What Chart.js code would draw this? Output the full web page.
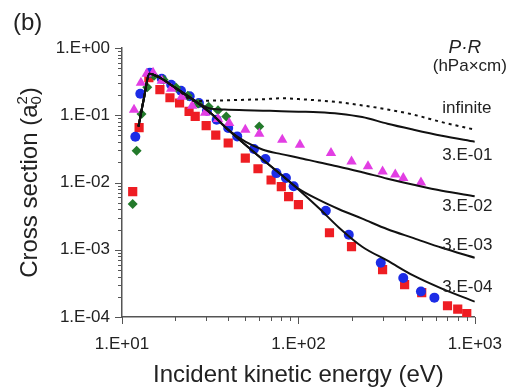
<!DOCTYPE html>
<html>
<head>
<meta charset="utf-8">
<script src="https://cdn.jsdelivr.net/npm/chart.js@4.4.1/dist/chart.umd.min.js"></script>
<style>
  html, body { margin: 0; padding: 0; background: #fff; }
  #chart { display: block; }
</style>
</head>
<body>
<canvas id="chart" width="519" height="390"></canvas>
<script>
// values (energy in eV, cross section in a0^2)
const curve_energy = [12.4, 13.3, 14.3, 16, 20, 26, 32, 40, 50, 63, 80, 100, 130, 170, 230, 320, 450, 650, 1000];
const curve_infinite = [0.068, 0.176, 0.415, 0.374, 0.257, 0.162, 0.165, 0.167, 0.170, 0.173, 0.179, 0.174, 0.166, 0.156, 0.140, 0.122, 0.102, 0.079, 0.061];
const curve_3e01 = [0.068, 0.176, 0.415, 0.374, 0.257, 0.162, 0.125, 0.121, 0.119, 0.117, 0.115, 0.113, 0.111, 0.1055, 0.094, 0.0748, 0.061, 0.0497, 0.0404];
const curve_3e02 = [0.068, 0.176, 0.415, 0.374, 0.257, 0.162, 0.106, 0.0608, 0.0404, 0.0307, 0.0264, 0.0234, 0.0200, 0.0172, 0.0142, 0.0114, 0.00927, 0.00755, 0.00626];
const curve_3e03 = [0.068, 0.176, 0.415, 0.374, 0.257, 0.162, 0.106, 0.0608, 0.0365, 0.0218, 0.0130, 0.0081, 0.00555, 0.0040, 0.0029, 0.00202, 0.00149, 0.00107, 0.000762];
const curve_3e04 = [0.068, 0.176, 0.415, 0.374, 0.257, 0.162, 0.106, 0.0608, 0.0365, 0.0218, 0.0130, 0.0079, 0.00422, 0.00213, 0.00111, 0.000687, 0.000411, 0.000264, 0.000169];

const red_energy = [11.5, 12.5, 14.2, 16.4, 18.7, 21.2, 24, 26, 30, 34, 40, 50, 59, 70, 80, 88, 100, 150, 200, 300, 400, 500, 700, 800, 900];
const red_sigma = [0.0073, 0.0653, 0.362, 0.240, 0.182, 0.152, 0.114, 0.096, 0.070, 0.0505, 0.0387, 0.023, 0.016, 0.0109, 0.00866, 0.00615, 0.00468, 0.00179, 0.00111, 0.000505, 0.000302, 0.00023, 0.000147, 0.000131, 0.000112];

const blue_energy = [11.9, 12.7, 14.4, 16.8, 19, 21.6, 24.2, 27.3, 30.3, 34.4, 40, 45, 56, 65, 75, 85, 94, 143, 193, 293, 393, 495, 590];
const blue_sigma = [0.048, 0.209, 0.43, 0.35, 0.285, 0.232, 0.192, 0.152, 0.117, 0.0859, 0.0646, 0.0485, 0.0315, 0.0224, 0.0138, 0.0117, 0.0088, 0.0038, 0.00167, 0.00064, 0.00038, 0.00024, 0.000194];

const green_energy = [11.5, 12.1, 12.9, 13.9, 15.2, 17.2, 20.3, 23.6, 27, 31, 35, 39, 60];
const green_sigma = [0.0048, 0.0297, 0.104, 0.261, 0.387, 0.338, 0.257, 0.195, 0.149, 0.134, 0.119, 0.096, 0.068];

const magenta_energy = [11.7, 12.8, 13.8, 15, 16.8, 19, 21.8, 25, 29.6, 35, 40.5, 50, 60, 81, 102, 153, 200, 248, 300, 354, 393, 495];
const magenta_sigma = [0.121, 0.305, 0.415, 0.43, 0.326, 0.248, 0.189, 0.139, 0.109, 0.088, 0.0767, 0.061, 0.0532, 0.0433, 0.0365, 0.0275, 0.0206, 0.0174, 0.0146, 0.0131, 0.0117, 0.0100];

const x_decades = [10, 100, 1000];
const y_decades = [1e-4, 1e-3, 1e-2, 1e-1, 1];
const curve_labels = ["infinite", "3.E-01", "3.E-02", "3.E-03", "3.E-04"];

const FONT = "'Liberation Sans', Arial, Helvetica, sans-serif";
const TEXT = "#222";
const AXIS = "#555";

function to_points(xs, ys) {
  return xs.map((x, i) => ({ x: x, y: ys[i] }));
}

function is_decade(v) {
  const l = Math.log10(v);
  return Math.abs(l - Math.round(l)) < 1e-6;
}

function decade_label(v) {
  const e = Math.round(Math.log10(v));
  return "1.E" + (e < 0 ? "-" : "+") + String(Math.abs(e)).padStart(2, "0");
}

function log_ticks(decades) {
  const out = [];
  decades.forEach((d, i) => {
    if (i === decades.length - 1) {
      out.push({ value: d });
      return;
    }
    for (let m = 1; m < 10; m++) out.push({ value: m * d });
  });
  return out;
}

function curve(data, dashed) {
  return {
    data: to_points(curve_energy, data),
    showLine: true,
    borderColor: "#111",
    borderWidth: 2,
    borderDash: dashed ? [3, 4] : [],
    pointRadius: 0,
    cubicInterpolationMode: "monotone",
  };
}

function markers(xs, ys, colour, style, radius) {
  return {
    data: to_points(xs, ys),
    showLine: false,
    pointStyle: style,
    pointRadius: radius,
    pointBackgroundColor: colour,
    pointBorderColor: colour,
    pointBorderWidth: 0,
  };
}

// tick marks, titles and curve labels
const extras = {
  id: "extras",
  afterDraw(chart) {
    const ctx = chart.ctx;
    const xs = chart.scales.x;
    const ys = chart.scales.y;
    const area = chart.chartArea;
    ctx.save();

    ctx.strokeStyle = AXIS;
    ctx.lineWidth = 1;
    ys.ticks.forEach((t) => {
      const y = Math.round(ys.getPixelForValue(t.value)) + 0.5;
      const len = is_decade(t.value) ? 7 : 4;
      ctx.beginPath();
      ctx.moveTo(area.left - len, y);
      ctx.lineTo(area.left, y);
      ctx.stroke();
    });
    xs.ticks.forEach((t) => {
      const x = Math.round(xs.getPixelForValue(t.value)) + 0.5;
      const len = is_decade(t.value) ? 7 : 4;
      ctx.beginPath();
      ctx.moveTo(x, area.bottom);
      ctx.lineTo(x, area.bottom + len);
      ctx.stroke();
    });

    ctx.fillStyle = TEXT;

    // panel letter
    ctx.font = "24px " + FONT;
    ctx.textAlign = "left";
    ctx.textBaseline = "alphabetic";
    ctx.fillText("(b)", 13, 30);

    // x title
    ctx.textAlign = "center";
    ctx.fillText("Incident kinetic energy (eV)", (area.left + area.right) / 2, 382);

    // y title with a0 squared
    ctx.save();
    ctx.translate(28, (area.top + area.bottom) / 2);
    ctx.rotate(-Math.PI / 2);
    ctx.textAlign = "left";
    const big = "24px " + FONT;
    const small = "15px " + FONT;
    const head = "Cross section (a";
    ctx.font = big;
    const w_head = ctx.measureText(head).width;
    const w_close = ctx.measureText(")").width;
    ctx.font = small;
    const w_idx = ctx.measureText("0").width + 1;
    const total = w_head + w_idx + w_close;
    let x0 = -total / 2;
    const base = 9;
    ctx.font = big;
    ctx.fillText(head, x0, base);
    x0 += w_head;
    ctx.font = small;
    ctx.fillText("0", x0, base + 4);
    ctx.fillText("2", x0, base - 10);
    x0 += w_idx;
    ctx.font = big;
    ctx.fillText(")", x0, base);
    ctx.restore();

    // legend heading
    ctx.textAlign = "center";
    ctx.font = "italic 19px " + FONT;
    ctx.fillText("P\u00b7R", area.right - 10, 53);
    ctx.font = "17px " + FONT;
    ctx.fillText("(hPa\u00d7cm)", area.right - 5, 71);

    // labels at the end of each curve
    const ends = [curve_infinite, curve_3e01, curve_3e02, curve_3e03, curve_3e04];
    const offsets = [-17, 18, 15, -8, -10];
    ctx.textAlign = "left";
    ends.forEach((c, i) => {
      const y = ys.getPixelForValue(c[c.length - 1]) + offsets[i];
      ctx.fillText(curve_labels[i], area.right - 32.5, y);
    });

    ctx.restore();
  },
};

const axis_font = { family: FONT, size: 17 };

new Chart(document.getElementById("chart"), {
  type: "scatter",
  data: {
    datasets: [
      curve(curve_infinite, true),
      curve(curve_3e01, false),
      curve(curve_3e02, false),
      curve(curve_3e03, false),
      curve(curve_3e04, false),
      markers(magenta_energy, magenta_sigma, "#e23ee3", "triangle", 6),
      markers(green_energy, green_sigma, "#237a2b", "rectRot", 5),
      markers(blue_energy, blue_sigma, "#1c2ce6", "circle", 5),
      markers(red_energy, red_sigma, "#ee1d23", "rect", 6.5),
    ],
  },
  options: {
    responsive: false,
    animation: false,
    layout: { padding: { left: 0, right: 31.5, top: 48, bottom: 0 } },
    plugins: { legend: { display: false }, tooltip: { enabled: false } },
    scales: {
      x: {
        type: "logarithmic",
        min: 10,
        max: 1000,
        afterBuildTicks: (s) => { s.ticks = log_ticks(x_decades); },
        afterFit: (s) => { s.height = 73; },
        grid: { display: false, drawTicks: false },
        border: { display: true, color: AXIS, width: 1.5 },
        ticks: {
          autoSkip: false,
          maxRotation: 0,
          padding: 17,
          color: TEXT,
          font: axis_font,
          callback: (v) => (is_decade(v) ? decade_label(v) : ""),
        },
      },
      y: {
        type: "logarithmic",
        min: 1e-4,
        max: 1,
        afterBuildTicks: (s) => { s.ticks = log_ticks(y_decades); },
        afterFit: (s) => { s.width = 122; },
        grid: { display: false, drawTicks: false },
        border: { display: true, color: AXIS, width: 1.5 },
        ticks: {
          autoSkip: false,
          padding: 12,
          color: TEXT,
          font: axis_font,
          callback: (v) => (is_decade(v) ? decade_label(v) : ""),
        },
      },
    },
  },
  plugins: [extras],
});
</script>
</body>
</html>
